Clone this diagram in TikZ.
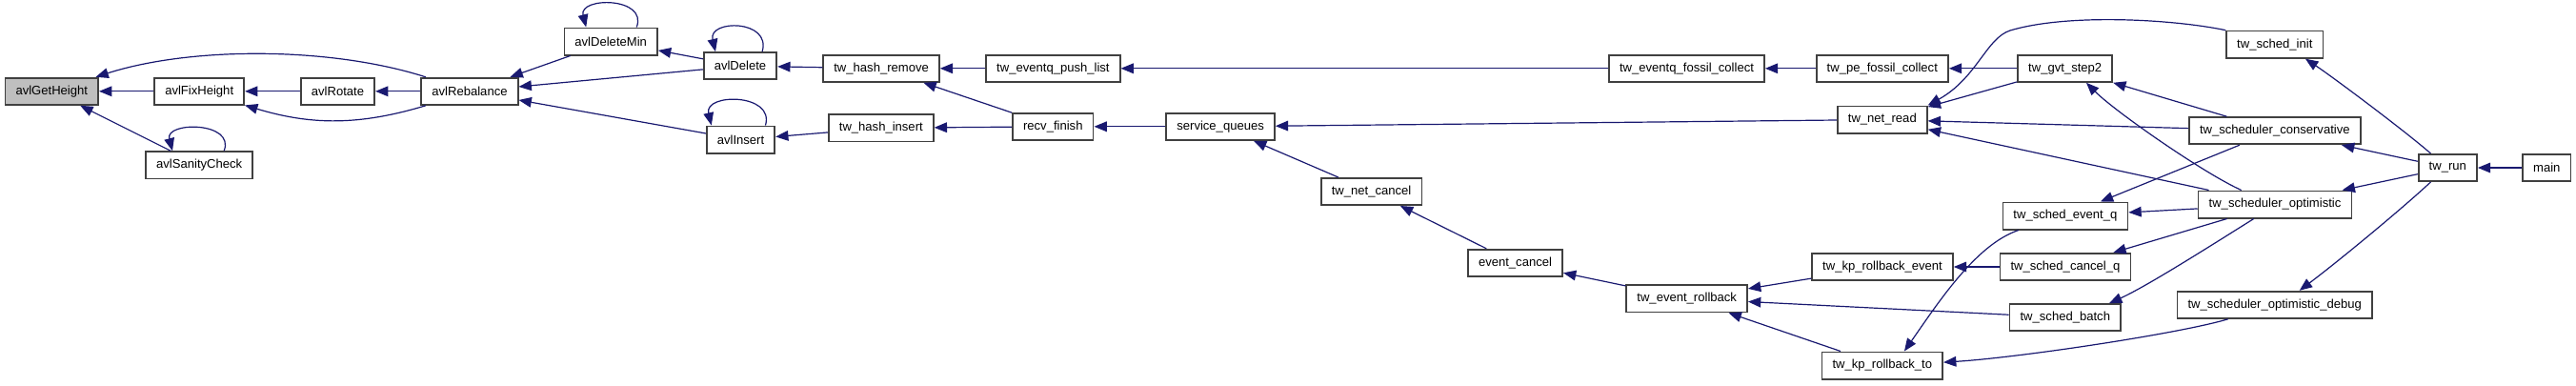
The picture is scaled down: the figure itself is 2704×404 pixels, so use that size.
\documentclass[tikz,border=0pt]{standalone}
\usepackage{fontspec}
\setmainfont{Liberation Sans}
\usepackage{xcolor}
\usepackage{tikz}
\usetikzlibrary{arrows.meta}
\definecolor{edgeblue}{HTML}{191970}
\definecolor{boxline}{HTML}{404040}

\begin{document}
\begin{tikzpicture}[
  x=0.75pt,y=-0.75pt,
  fn/.style={draw=boxline,line width=1.3pt,fill=white,minimum height=21.2pt,inner xsep=8.3pt,inner ysep=0pt,font=\fontsize{9.8}{11}\selectfont},
  cur/.style={fn,fill=gray!50},
  call/.style={-{Triangle[length=10pt,width=8pt]},draw=edgeblue,line width=0.9pt}
]
\useasboundingbox (0,0) rectangle (2704,404);
% avl functions
\node[cur] (getheight) at (54.3,95.8) {avlGetHeight};
\node[fn] (fixheight) at (209.2,95.8) {avlFixHeight};
\node[fn] (rotate) at (354.5,95.8) {avlRotate};
\node[fn] (rebalance) at (493,95.8) {avlRebalance};
\node[fn] (sanity) at (209.2,173.3) {avlSanityCheck};
\node[fn] (delmin) at (641.2,43.5) {avlDeleteMin};
\node[fn] (delete) at (777,69.2) {avlDelete};
\node[fn] (insert) at (777.5,146.5) {avlInsert};
% hash and queues
\node[fn] (hremove) at (925.1,71.8) {tw\_hash\_remove};
\node[fn] (hinsert) at (924.8,134.3) {tw\_hash\_insert};
\node[fn] (pushlist) at (1105.4,71.8) {tw\_eventq\_push\_list};
\node[fn] (recvfin) at (1105.3,132.8) {recv\_finish};
\node[fn] (servq) at (1281.1,132.8) {service\_queues};
\node[fn] (netcancel) at (1439.6,201) {tw\_net\_cancel};
\node[fn] (evcancel) at (1590.5,275.8) {event\_cancel};
\node[fn] (evfossil) at (1770.5,71.8) {tw\_eventq\_fossil\_collect};
\node[fn] (pefossil) at (1975.8,71.8) {tw\_pe\_fossil\_collect};
\node[fn] (gvtstep) at (2167.7,71.8) {tw\_gvt\_step2};
\node[fn] (netread) at (1975.8,125.5) {tw\_net\_read};
\node[fn] (evrollback) at (1770.7,313.3) {tw\_event\_rollback};
\node[fn] (kpevent) at (1976,280) {tw\_kp\_rollback\_event};
\node[fn] (kpto) at (1975.8,383.5) {tw\_kp\_rollback\_to};
% scheduler
\node[fn] (evq) at (2167.9,226.5) {tw\_sched\_event\_q};
\node[fn] (cancq) at (2167.9,280) {tw\_sched\_cancel\_q};
\node[fn] (batch) at (2167.8,333.2) {tw\_sched\_batch};
\node[fn] (schedinit) at (2387.8,46.7) {tw\_sched\_init};
\node[fn] (cons) at (2387.8,137.2) {tw\_scheduler\_conservative};
\node[fn] (opt) at (2388,214.5) {tw\_scheduler\_optimistic};
\node[fn] (optdbg) at (2387.7,319.8) {tw\_scheduler\_optimistic\_debug};
\node[fn] (twrun) at (2569.3,176) {tw\_run};
\node[fn] (main) at (2673.3,176) {main};
% calls
\draw[call] (fixheight) -- (getheight);
\draw[call] (rebalance.162) .. controls +(-100,-32) and +(100,-32) .. (getheight.18);
\draw[call] (sanity) -- (getheight);
\draw[call] (sanity.30) .. controls +(12,-31) and +(-8,-31) .. (sanity.152);
\draw[call] (rotate) -- (fixheight);
\draw[call] (rebalance.198) .. controls +(-70,21) and +(70,21) .. (fixheight.343);
\draw[call] (rebalance) -- (rotate);
\draw[call] (delmin) -- (rebalance);
\draw[call] (delete) -- (rebalance);
\draw[call] (insert) -- (rebalance);
\draw[call] (delmin.29) .. controls +(12,-32) and +(-8,-32) .. (delmin.150);
\draw[call] (delete) -- (delmin);
\draw[call] (delete.33) .. controls +(10,-34) and +(-8,-34) .. (delete.150);
\draw[call] (insert.30) .. controls +(10,-34) and +(-8,-34) .. (insert.154);
\draw[call] (hremove) -- (delete);
\draw[call] (hinsert) -- (insert);
\draw[call] (pushlist) -- (hremove);
\draw[call] (recvfin) -- (hremove);
\draw[call] (recvfin) -- (hinsert);
\draw[call] (evfossil) -- (pushlist);
\draw[call] (servq) -- (recvfin);
\draw[call] (netread) -- (servq);
\draw[call] (netcancel) -- (servq);
\draw[call] (evcancel) -- (netcancel);
\draw[call] (evrollback) -- (evcancel);
\draw[call] (pefossil) -- (evfossil);
\draw[call] (gvtstep) -- (pefossil);
\draw[call] (gvtstep) -- (netread);
\draw[call] (schedinit.north west) .. controls (2280,20) and (2170,14) .. (2110,32) .. controls (2085,40) and (2075,82) .. (netread.north east);
\draw[call] (cons) -- (netread);
\draw[call] (opt) -- (netread);
\draw[call] (cons) -- (gvtstep);
\draw[call] (opt.157) .. controls +(-40,-18) and +(30,30) .. (gvtstep.326);
\draw[call] (twrun.140) .. controls +(-25,-22) and +(30,20) .. (schedinit.335);
\draw[call] (twrun) -- (cons);
\draw[call] (twrun) -- (opt);
\draw[call] (twrun.220) .. controls +(-30,28) and +(40,-30) .. (optdbg.30);
\draw[call] (main) -- (twrun);
\draw[call] (cons) -- (evq);
\draw[call] (opt) -- (evq);
\draw[call] (opt) -- (cancq);
\draw[call] (opt.214) .. controls +(-40,25) and +(40,-18) .. (batch.18);
\draw[call] (cancq) -- (kpevent);
\draw[call] (kpevent) -- (evrollback);
\draw[call] (batch) -- (evrollback);
\draw[call] (kpto) -- (evrollback);
\draw[call] (evq.197) .. controls +(-45,15) and +(35,-50) .. (kpto.33);
\draw[call] (optdbg.197) .. controls +(-50,15) and +(80,-5) .. (kpto.3);
\end{tikzpicture}
\end{document}
